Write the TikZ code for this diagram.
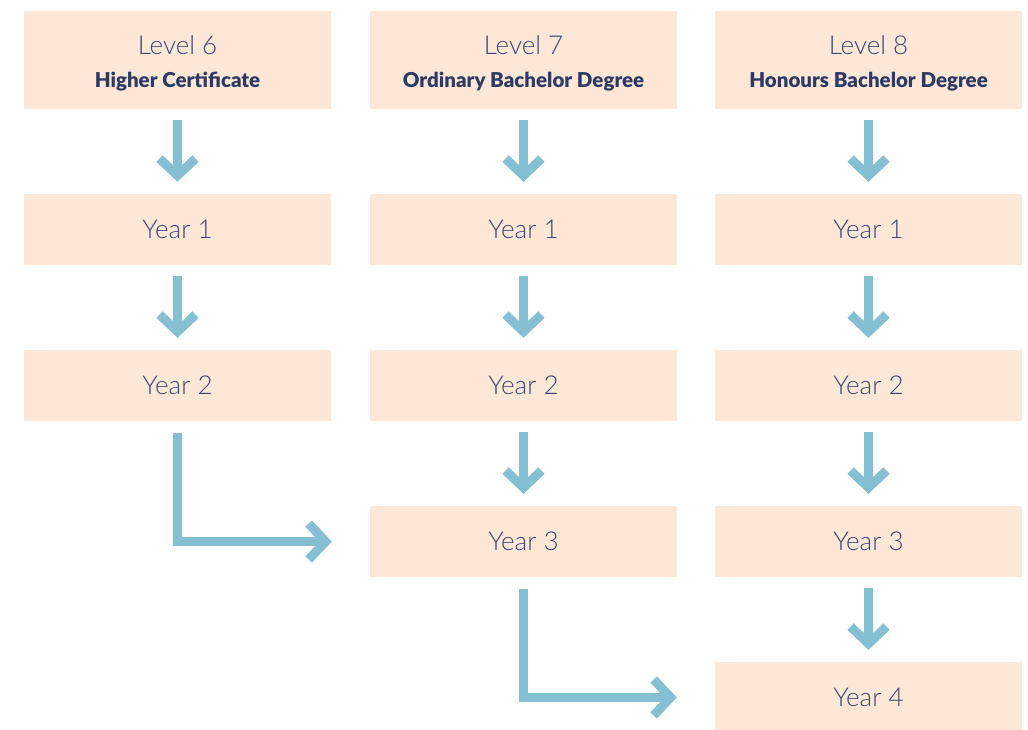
\documentclass[tikz,border=0pt]{standalone}
\usepackage{fontspec}
\setmainfont{Lato}
\newfontfamily\lightfont{Lato Light}
\newfontfamily\heavyfont{Lato Black}
\usetikzlibrary{arrows.meta}
\definecolor{boxfill}{HTML}{FDE8D8}
\definecolor{arrowblue}{HTML}{85BFD3}
\definecolor{navy}{HTML}{2E3A64}
\definecolor{navylight}{HTML}{3B4672}
\newcommand{\subtitletext}[1]{{\heavyfont\fontsize{20.5}{22}\selectfont\color{navy}#1}}
\newcommand{\headstrut}{\rule{0pt}{26pt}}
\tikzset{
  stagebox/.style={fill=boxfill, draw=none, minimum width=307pt, minimum height=71pt, inner sep=0pt,
    font=\lightfont\fontsize{26}{30}\selectfont, text=navylight},
  headbox/.style={stagebox, minimum height=98pt, align=center},
  flow/.style={draw=arrowblue, line width=9pt,
    -{Straight Barb[length=17pt, width=36pt, line width=9pt]}},
  vflow/.style={flow, shorten <=11pt, shorten >=12pt},
  elbow/.style={flow, shorten <=12pt, shorten >=38pt}
}
\begin{document}
\begin{tikzpicture}[x=1pt, y=-1pt]
\useasboundingbox (0,0) rectangle (1028,729);
\fill[white] (0,0) rectangle (1028,729);
% headers
\node[headbox] (h1) at (177.5,60) {\headstrut Level 6\\[3pt]\subtitletext{Higher Certificate}};
\node[headbox] (h2) at (523.5,60) {\headstrut Level 7\\[3pt]\subtitletext{Ordinary Bachelor Degree}};
\node[headbox] (h3) at (868.5,60) {\headstrut Level 8\\[3pt]\subtitletext{Honours Bachelor Degree}};
% years
\node[stagebox] (a1) at (177.5,229.5) {Year 1};
\node[stagebox] (a2) at (177.5,385.5) {Year 2};
\node[stagebox] (b1) at (523.5,229.5) {Year 1};
\node[stagebox] (b2) at (523.5,385.5) {Year 2};
\node[stagebox] (b3) at (523.5,541.5) {Year 3};
\node[stagebox] (c1) at (868.5,229.5) {Year 1};
\node[stagebox] (c2) at (868.5,385.5) {Year 2};
\node[stagebox] (c3) at (868.5,541.5) {Year 3};
\node[stagebox] (c4) at (868.5,697.5) {Year 4};
% arrows
\draw[vflow] (h1) -- (a1);
\draw[vflow] (a1) -- (a2);
\draw[vflow] (h2) -- (b1);
\draw[vflow] (b1) -- (b2);
\draw[vflow] (b2) -- (b3);
\draw[vflow] (h3) -- (c1);
\draw[vflow] (c1) -- (c2);
\draw[vflow] (c2) -- (c3);
\draw[vflow] (c3) -- (c4);
\draw[elbow] (a2) |- (b3);
\draw[elbow] (b3) |- (c4);
\end{tikzpicture}
\end{document}
